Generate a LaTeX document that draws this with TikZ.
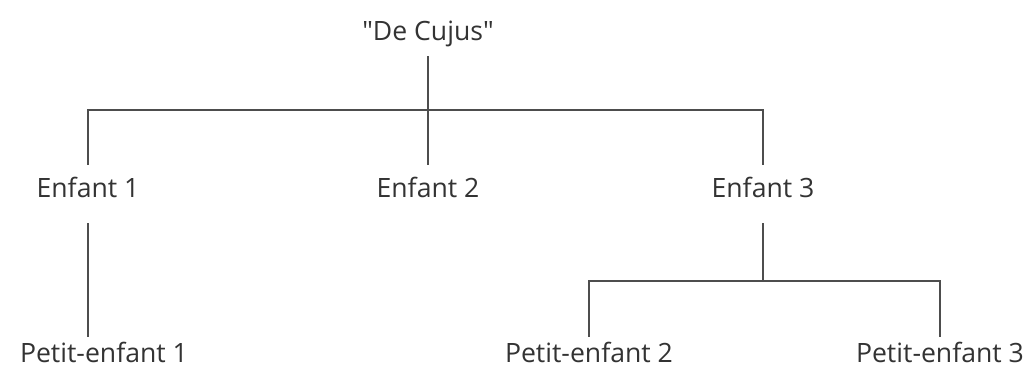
\documentclass[tikz,border=0pt]{standalone}
\usepackage{fontspec}
\setmainfont{Open Sans}[Ligatures=TeXOff]
\usetikzlibrary{positioning}
\definecolor{ink}{HTML}{333333}
\definecolor{wire}{HTML}{4D4D4D}

\begin{document}
\begin{tikzpicture}[x=0.5pt,y=-0.5pt,
  person/.style={text=ink, font=\fontsize{13.3}{16}\selectfont, anchor=base,
    text height=10pt, text depth=6pt, inner xsep=0pt, inner ysep=6.5pt},
  link/.style={draw=wire, line width=1pt}]
\useasboundingbox (0,0) rectangle (1024,368);
\node[person, inner ysep=1.5pt] (dc) at (428,41) {"De Cujus"};
\node[person] (e1) at (88,198) {Enfant 1};
\node[person] (e2) at (428,198) {Enfant 2};
\node[person] (e3) at (763,198) {Enfant 3};
\node[person, inner ysep=3pt] (p1) at (104,363) {Petit-enfant 1};
\node[person, inner ysep=3pt] (p2) at (589,363) {Petit-enfant 2};
\node[person, inner ysep=3pt] (p3) at (940,363) {Petit-enfant 3};
\coordinate (bus) at (428,110);
\coordinate (bus3) at (763,281);
\draw[link] (dc.south) -- (e2.north);
\draw[link] (e1.north) |- (bus) -| (e3.north);
\draw[link] (e1.south) -- (e1.south |- p1.north);
\draw[link] (e3.south) -- (bus3);
\draw[link] (p2.north) |- (bus3) -| (p3.north);
\end{tikzpicture}
\end{document}
